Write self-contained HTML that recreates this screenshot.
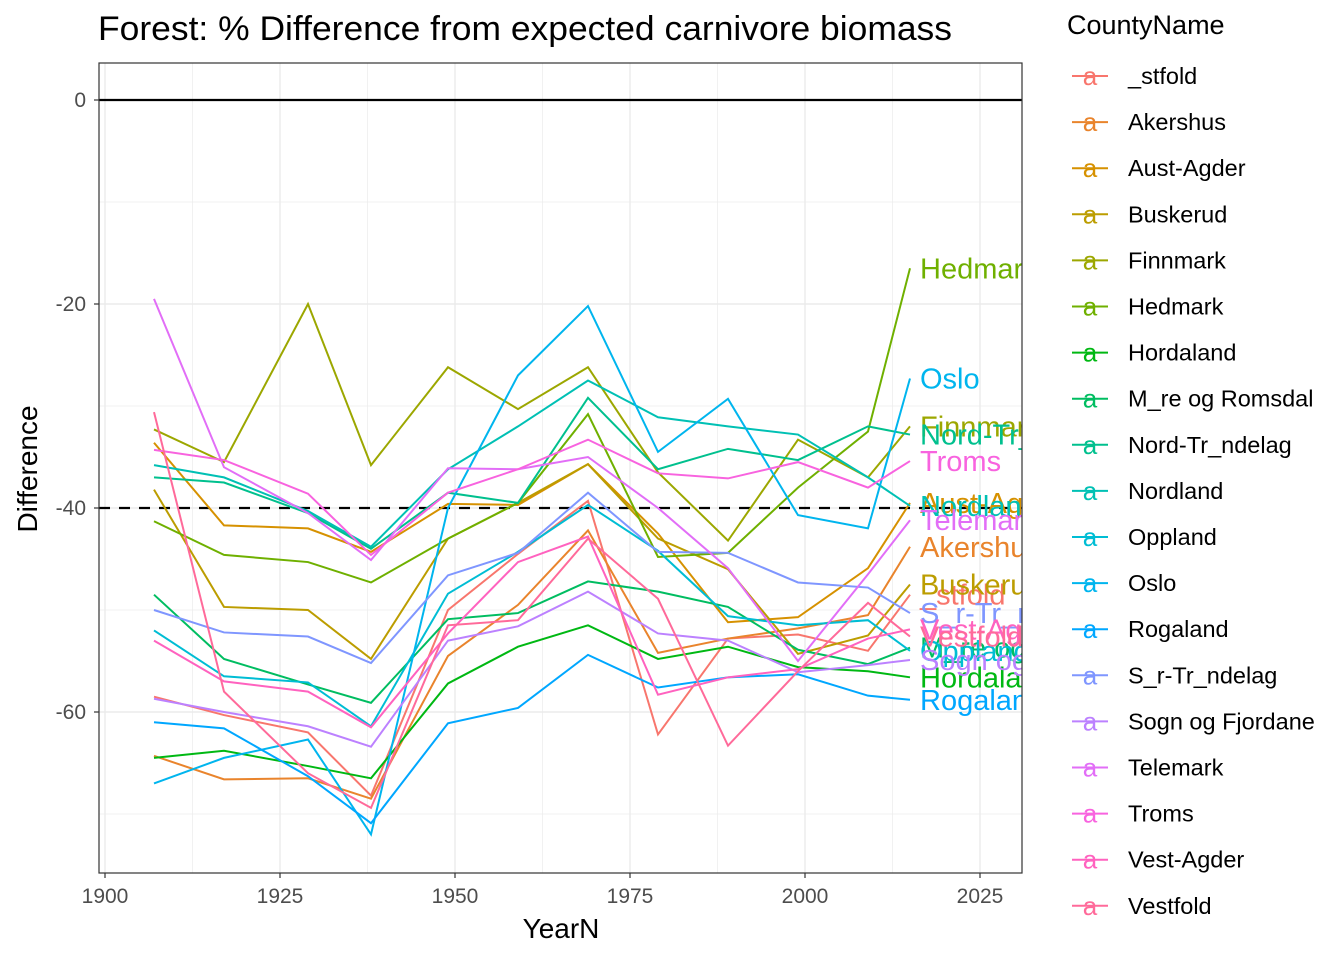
<!DOCTYPE html>
<html><head><meta charset="utf-8">
<style>
body{margin:0;background:#fff;font-family:"Liberation Sans",Arial,sans-serif;}
svg text{font-family:"Liberation Sans",Arial,sans-serif;}
</style></head>
<body>
<svg id="chart" width="1344" height="960" xmlns="http://www.w3.org/2000/svg">
<defs><clipPath id="pc"><rect x="99" y="63" width="923" height="810"/></clipPath></defs>
<rect width="1344" height="960" fill="#fff"/>
<text x="98" y="40" font-size="34" textLength="854" lengthAdjust="spacingAndGlyphs" fill="#000">Forest: % Difference from expected carnivore biomass</text>
<g id="grid"></g>
<g id="lines" clip-path="url(#pc)"></g>
<rect x="99" y="63" width="923" height="810" fill="none" stroke="#333" stroke-width="1.2"/>
<g id="axes"></g>
<text x="561" y="938" font-size="28" text-anchor="middle">YearN</text>
<text transform="translate(37,469) rotate(-90)" font-size="28" text-anchor="middle">Difference</text>
<g id="legend"></g>
</svg>
<script>
const years=[1907,1917,1929,1938,1949,1959,1969,1979,1989,1999,2009,2015];
const counties=["_stfold","Akershus","Aust-Agder","Buskerud","Finnmark","Hedmark","Hordaland","M_re og Romsdal","Nord-Tr_ndelag","Nordland","Oppland","Oslo","Rogaland","S_r-Tr_ndelag","Sogn og Fjordane","Telemark","Troms","Vest-Agder","Vestfold"];
const v_stfold=[-58.5,-60.3,-62,-68.2,-50,-44.5,-39.3,-62.2,-52.8,-52.4,-54,-48.5];
const vAkershus=[-64.3,-66.6,-66.5,-68.5,-54.5,-49.5,-42.2,-54.2,-52.8,-51.8,-50.5,-43.8];
const vAustAgder=[-33.6,-41.7,-42,-44.3,-39.6,-39.7,-35.7,-42.5,-51.2,-50.7,-45.9,-39.5];
const vBuskerud=[-38.2,-49.7,-50,-54.8,-43,-39.5,-35.7,-43,-46,-54.3,-52.5,-47.5];
const vFinnmark=[-32.3,-35.5,-20,-35.8,-26.2,-30.3,-26.2,-36.5,-43.2,-33.3,-37,-32];
const vHedmark=[-41.3,-44.6,-45.3,-47.3,-43,-39.5,-30.8,-44.8,-44.4,-38,-32.5,-16.5];
const vHordaland=[-64.5,-63.8,-65.3,-66.5,-57.2,-53.6,-51.5,-54.8,-53.6,-55.6,-56,-56.6];
const vMore=[-48.5,-54.8,-57.3,-59.1,-50.9,-50.3,-47.2,-48.2,-49.7,-53.9,-55.3,-53.7];
const vNordTr=[-37,-37.5,-40.5,-44,-38.5,-39.5,-29.2,-36.2,-34.2,-35.3,-32,-32.8];
const vNordland=[-35.8,-37,-40.3,-43.8,-36.2,-32,-27.5,-31.1,-32,-32.8,-37,-39.8];
const vOppland=[-52,-56.5,-57.1,-61.4,-48.4,-44.3,-39.7,-44.2,-50.6,-51.5,-51,-54];
const vOslo=[-67,-64.5,-62.7,-72,-40,-27,-20.2,-34.5,-29.3,-40.7,-42,-27.3];
const vRogaland=[-61,-61.6,-66.3,-70.9,-61.1,-59.6,-54.4,-57.6,-56.6,-56.3,-58.4,-58.8];
const vSorTr=[-50,-52.2,-52.6,-55.2,-46.6,-44.4,-38.5,-44.3,-44.4,-47.3,-47.8,-50.3];
const vSogn=[-58.7,-60,-61.4,-63.4,-53,-51.6,-48.2,-52.3,-53,-56.1,-55.4,-54.9];
const vTelemark=[-19.5,-36,-40.5,-45.1,-36.1,-36.2,-35,-40,-45.9,-55,-46.5,-41.2];
const vTroms=[-34.3,-35.3,-38.6,-44.6,-38.5,-36.2,-33.3,-36.6,-37.1,-35.5,-38,-35.4];
const vVestAgder=[-53,-57,-58,-61.5,-52.3,-45.3,-42.8,-58.3,-56.6,-55.8,-52.8,-51.9];
const vVestfold=[-30.6,-58,-66,-69.4,-51.5,-51,-43,-48.9,-63.3,-56,-49.3,-52.6];
const series=[v_stfold,vAkershus,vAustAgder,vBuskerud,vFinnmark,vHedmark,vHordaland,vMore,vNordTr,vNordland,vOppland,vOslo,vRogaland,vSorTr,vSogn,vTelemark,vTroms,vVestAgder,vVestfold];
const xTicks=[1900,1925,1950,1975,2000,2025];
const yTicks=[0,-20,-40,-60];
const refLines=[0,-40];

const NS="http://www.w3.org/2000/svg";
const X=y=>105+(y-1900)*7;
const Y=v=>100-v*10.2;
function mk(tag,attrs,parent){const e=document.createElementNS(NS,tag);for(const k in attrs)e.setAttribute(k,attrs[k]);parent.appendChild(e);return e;}
function hcl(h,c,l){const hr=h*Math.PI/180;const U=c*Math.cos(hr),V=c*Math.sin(hr);
 const Yv=l>8?Math.pow((l+16)/116,3):l/903.3;const un=0.1978398,vn=0.4683363;
 const u=U/(13*l)+un,v=V/(13*l)+vn;const Xv=Yv*9*u/(4*v);const Zv=Yv*(12-3*u-20*v)/(4*v);
 let r=3.2404542*Xv-1.5371385*Yv-0.4985314*Zv,g=-0.9692660*Xv+1.8760108*Yv+0.0415560*Zv,b=0.0556434*Xv-0.2040259*Yv+1.0572252*Zv;
 const gm=x=>{x=x<=0.0031308?12.92*x:1.055*Math.pow(x,1/2.4)-0.055;return Math.round(Math.max(0,Math.min(1,x))*255);};
 return `rgb(${gm(r)},${gm(g)},${gm(b)})`;}
const colors=counties.map((c,i)=>hcl(15+i*360/19,100,65));

const grid=document.getElementById('grid');
for(let v=-70;v<=0;v+=10){const e=mk('line',{x1:99,x2:1022,y1:Y(v),y2:Y(v),stroke:'#ebebeb','stroke-width':v%20===0?1.4:0.7},grid);
 
 }
for(let yr=1900;yr<=2030;yr+=12.5){const e=mk('line',{x1:X(yr),x2:X(yr),y1:63,y2:873,stroke:'#ebebeb','stroke-width':yr%25===0?1.4:0.7},grid);
 
 }

const lines=document.getElementById('lines');
refLines.forEach((v,i)=>{const e=mk('line',{x1:99,x2:1022,y1:Y(v),y2:Y(v),stroke:'#000','stroke-width':2.2},lines);
 if(i===1)e.setAttribute('stroke-dasharray','11,9');
 
 });
series.forEach((s,i)=>{const p=mk('polyline',{points:s.map((v,j)=>X(years[j])+','+Y(v)).join(' '),fill:'none',stroke:colors[i],'stroke-width':2},lines);
 
 });
series.forEach((s,i)=>{const t=mk('text',{x:X(years[years.length-1])+10,y:Y(s[s.length-1])+10,'font-size':29,fill:colors[i]},lines);
 t.textContent=counties[i];
 
 });

const axes=document.getElementById('axes');
yTicks.forEach(v=>{mk('line',{x1:94,x2:99,y1:Y(v),y2:Y(v),stroke:'#333','stroke-width':1.2},axes);
 const t=mk('text',{x:86,y:Y(v)+7,'font-size':21,fill:'#4d4d4d','text-anchor':'end'},axes);t.textContent=v;
 
 });
xTicks.forEach(v=>{mk('line',{x1:X(v),x2:X(v),y1:873,y2:878,stroke:'#333','stroke-width':1.2},axes);
 const t=mk('text',{x:X(v),y:903,'font-size':21,fill:'#4d4d4d','text-anchor':'middle'},axes);t.textContent=v;
 
 });

const lg=document.getElementById('legend');
const lt=mk('text',{x:1067,y:34,'font-size':27},lg);lt.textContent='CountyName';


counties.forEach((c,i)=>{const cy=76+i*46.1;
 const g=mk('g',{},lg);
 
 
 mk('line',{x1:1072,x2:1108,y1:cy,y2:cy,stroke:colors[i],'stroke-width':2},g);
 const a=mk('text',{x:1090,y:cy+9,'font-size':26,fill:colors[i],'text-anchor':'middle'},g);a.textContent='a';
 const t=mk('text',{x:1128,y:cy+8,'font-size':23.5},g);t.textContent=c;});
</script>
</body></html>
